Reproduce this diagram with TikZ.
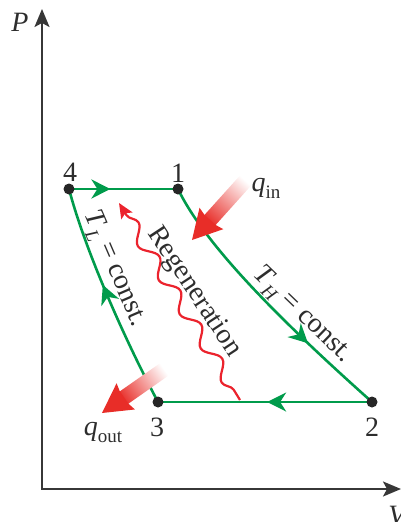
\documentclass[tikz,border=0pt]{standalone}
\usepackage{fontspec}
\setmainfont{Liberation Serif}
\usetikzlibrary{arrows.meta,decorations.pathmorphing,decorations.markings}
\definecolor{cycgreen}{RGB}{0,155,75}
\definecolor{regred}{RGB}{235,35,45}
\definecolor{heatred}{RGB}{232,45,40}
\definecolor{txt}{RGB}{45,45,45}
\definecolor{axisgray}{RGB}{55,55,55}
\newcommand\sbi[1]{\raisebox{-0.25em}{\fontsize{19}{19}\selectfont\itshape #1}}
\newcommand\sbu[1]{\raisebox{-0.25em}{\fontsize{19}{19}\selectfont #1}}
\newcommand\heatarrow[3]{%
 \begin{scope}[transform canvas={shift={#1},rotate=#2}]
   \shade[left color=white, right color=heatred] (-#3,-7.5) -- (-24,-7.5) -- (-24,7.5) -- (-#3,7.5) -- cycle;
   \fill[heatred] (-27,-7.5) -- (-29,-16) -- (0,0) -- (-29,16) -- (-27,7.5) -- cycle;
 \end{scope}}
\begin{document}
\begin{tikzpicture}[x=1pt,y=-1pt,
  lbl/.style={font=\fontsize{28}{30}\selectfont, text=txt, inner sep=0pt},
  proc/.style={cycgreen, line width=2.6pt},
  midarrow/.style={postaction={decorate}, decoration={markings, mark=at position #1 with {\arrow{Stealth[length=19pt,width=19pt,inset=6pt]}}}},
  ]
\useasboundingbox (0,0) rectangle (401,522);
% axes
\coordinate (O) at (42,489);
\coordinate (Ptip) at (42,9);
\coordinate (Vtip) at (401,489);
\draw[axisgray, line width=2pt, {Stealth[length=18pt,width=15pt,inset=4pt]}-{Stealth[length=18pt,width=15pt,inset=4pt]}] (Ptip) -- (O) -- (Vtip);
\node[lbl, font=\fontsize{28}{30}\selectfont\itshape] (Plbl) at (20,22) {P};
\node[lbl, font=\fontsize{28}{30}\selectfont\itshape] (Vlbl) at (397,516) {V};
% state points
\coordinate (p1) at (178,189);
\coordinate (p2) at (372,402);
\coordinate (p3) at (158,402);
\coordinate (p4) at (69,189);
% processes
\draw[proc, midarrow=0.38] (p4) -- (p1);
\draw[proc, midarrow=0.7] (p1) .. controls (205,245) and (280,320) .. (p2);
\draw[proc, midarrow=0.49] (p2) -- (p3);
\draw[proc, midarrow=0.56] (p3) .. controls (125,340) and (85,250) .. (p4);
\foreach \p in {p1,p2,p3,p4} \fill[black!85] (\p) circle (5.5);
% regeneration
\coordinate (rb) at (240,400);
\coordinate (rt) at (119,203);
\draw[regred, line width=2.2pt, decorate, decoration={snake, segment length=40pt, amplitude=6.5pt, pre length=12pt, post length=14pt}, -{Stealth[length=15pt,width=13pt,inset=3pt]}] (rb) -- (rt);
% heat arrows
\coordinate (qintip) at (192,240);
\coordinate (qouttip) at (102,413);
\heatarrow{(qintip)}{228}{80}
\heatarrow{(qouttip)}{215}{76}
% labels
\node[lbl] (l1) at (178,173) {1};
\node[lbl] (l4) at (70,172) {4};
\node[lbl] (l2) at (372,427) {2};
\node[lbl] (l3) at (157,427) {3};
\node[lbl] (qin) at (266,188) {\textit{q}\sbu{in}};
\node[lbl] (qout) at (103,432) {\textit{q}\sbu{out}};
\node[lbl, rotate=-56.6] (regen) at (194,292) {Regeneration};
\node[lbl, rotate=-44] (th) at (302,315) {\textit{T}\sbi{H} = const.};
\node[lbl, rotate=-66.7] (tl) at (114,269) {\textit{T}\sbi{L} = const.};
\end{tikzpicture}
\end{document}
